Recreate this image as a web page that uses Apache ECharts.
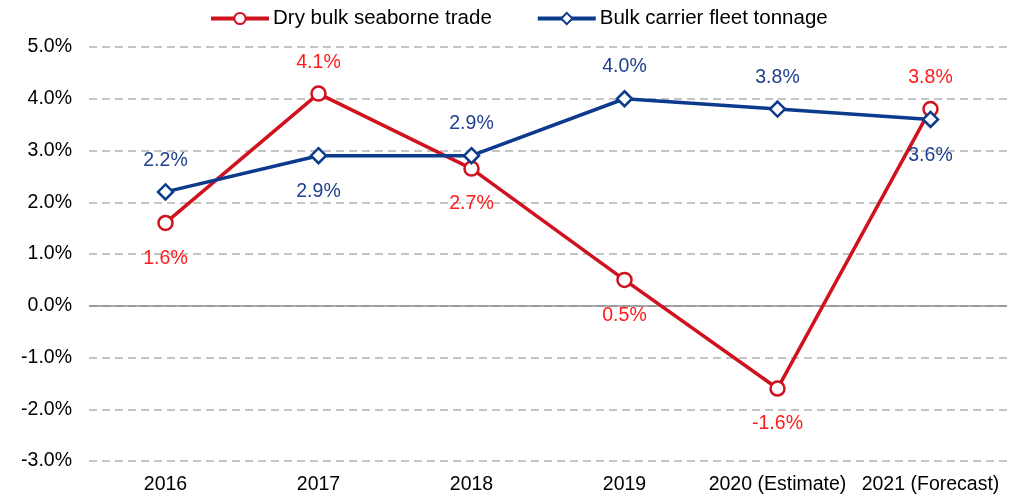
<!DOCTYPE html>
<html>
<head>
<meta charset="utf-8">
<script src="https://cdn.jsdelivr.net/npm/echarts@6/dist/echarts.min.js"></script>
<style>
  html, body { margin: 0; padding: 0; background: #ffffff; }
  #chart { width: 1025px; height: 497px; }
</style>
</head>
<body>
<div id="chart"></div>
<script>
// Year categories along the x axis
const categories = ['2016', '2017', '2018', '2019', '2020 (Estimate)', '2021 (Forecast)'];

// Annual growth, in percent
const dryBulkTrade = [1.6, 4.1, 2.65, 0.5, -1.6, 3.8];
const dryBulkTradeLabels = ['1.6%', '4.1%', '2.7%', '0.5%', '-1.6%', '3.8%'];
const dryBulkTradeLabelPos = ['bottom', 'top', 'bottom', 'bottom', 'bottom', 'top'];

const fleetTonnage = [2.2, 2.9, 2.9, 4.0, 3.8, 3.6];
const fleetTonnageLabels = ['2.2%', '2.9%', '2.9%', '4.0%', '3.8%', '3.6%'];
const fleetTonnageLabelPos = ['top', 'bottom', 'top', 'top', 'top', 'bottom'];

// Y axis range and step
const yMin = -3, yMax = 5, yStep = 1;

const RED = '#D0121E';
const RED_TEXT = '#FF1A1A';
const BLUE = '#0C3A8C';
const BLUE_TEXT = '#1F3F8F';
const FONT = '"Liberation Sans", Arial, sans-serif';

function buildData(values, labels, positions, color) {
  return values.map((v, i) => ({
    value: v,
    label: {
      show: true,
      position: positions[i],
      distance: positions[i] === 'top' ? 13 : 17,
      formatter: labels[i],
      color: color,
      fontSize: 19.5,
      fontFamily: FONT
    }
  }));
}

const chart = echarts.init(document.getElementById('chart'), null, { renderer: 'canvas' });

chart.setOption({
  animation: false,
  backgroundColor: '#ffffff',
  legend: {
    top: 3,
    left: 204,
    itemWidth: 58,
    itemHeight: 14,
    itemGap: 44,
    textStyle: { fontSize: 20.5, color: '#000', fontFamily: FONT, padding: [0, 0, 0, -1] },
    lineStyle: { width: 4 },
    data: ['Dry bulk seaborne trade', 'Bulk carrier fleet tonnage']
  },
  grid: { left: 89, right: 18, top: 47, bottom: 36, containLabel: false },
  xAxis: {
    type: 'category',
    data: categories,
    boundaryGap: true,
    axisLine: { show: false },
    axisTick: { show: false },
    axisLabel: { color: '#000', fontSize: 19.5, fontFamily: FONT, margin: 14, interval: 0 },
    splitLine: { show: false }
  },
  yAxis: {
    type: 'value',
    min: yMin,
    max: yMax,
    interval: yStep,
    axisLine: { show: false },
    axisTick: { show: false },
    axisLabel: {
      color: '#000', fontSize: 19.5, fontFamily: FONT, margin: 17,
      formatter: v => v.toFixed(1) + '%'
    },
    splitLine: {
      show: true,
      lineStyle: { color: '#C4C4C4', width: 2, type: [8, 5] }
    }
  },
  series: [
    {
      name: 'Dry bulk seaborne trade',
      type: 'line',
      data: buildData(dryBulkTrade, dryBulkTradeLabels, dryBulkTradeLabelPos, RED_TEXT),
      symbol: 'circle',
      symbolSize: 14,
      showAllSymbol: true,
      lineStyle: { color: RED, width: 3.5 },
      itemStyle: { color: '#ffffff', borderColor: RED, borderWidth: 2.5 },
      z: 3,
      markLine: {
        silent: true,
        symbol: 'none',
        label: { show: false },
        lineStyle: { color: '#8C8C8C', width: 1.5, type: 'solid' },
        data: [{ yAxis: 0 }],
        z: 1
      }
    },
    {
      name: 'Bulk carrier fleet tonnage',
      type: 'line',
      data: buildData(fleetTonnage, fleetTonnageLabels, fleetTonnageLabelPos, BLUE_TEXT),
      symbol: 'diamond',
      symbolSize: 15,
      showAllSymbol: true,
      lineStyle: { color: BLUE, width: 3.5 },
      itemStyle: { color: '#ffffff', borderColor: BLUE, borderWidth: 2.5 },
      z: 4
    }
  ]
});
</script>
</body>
</html>
